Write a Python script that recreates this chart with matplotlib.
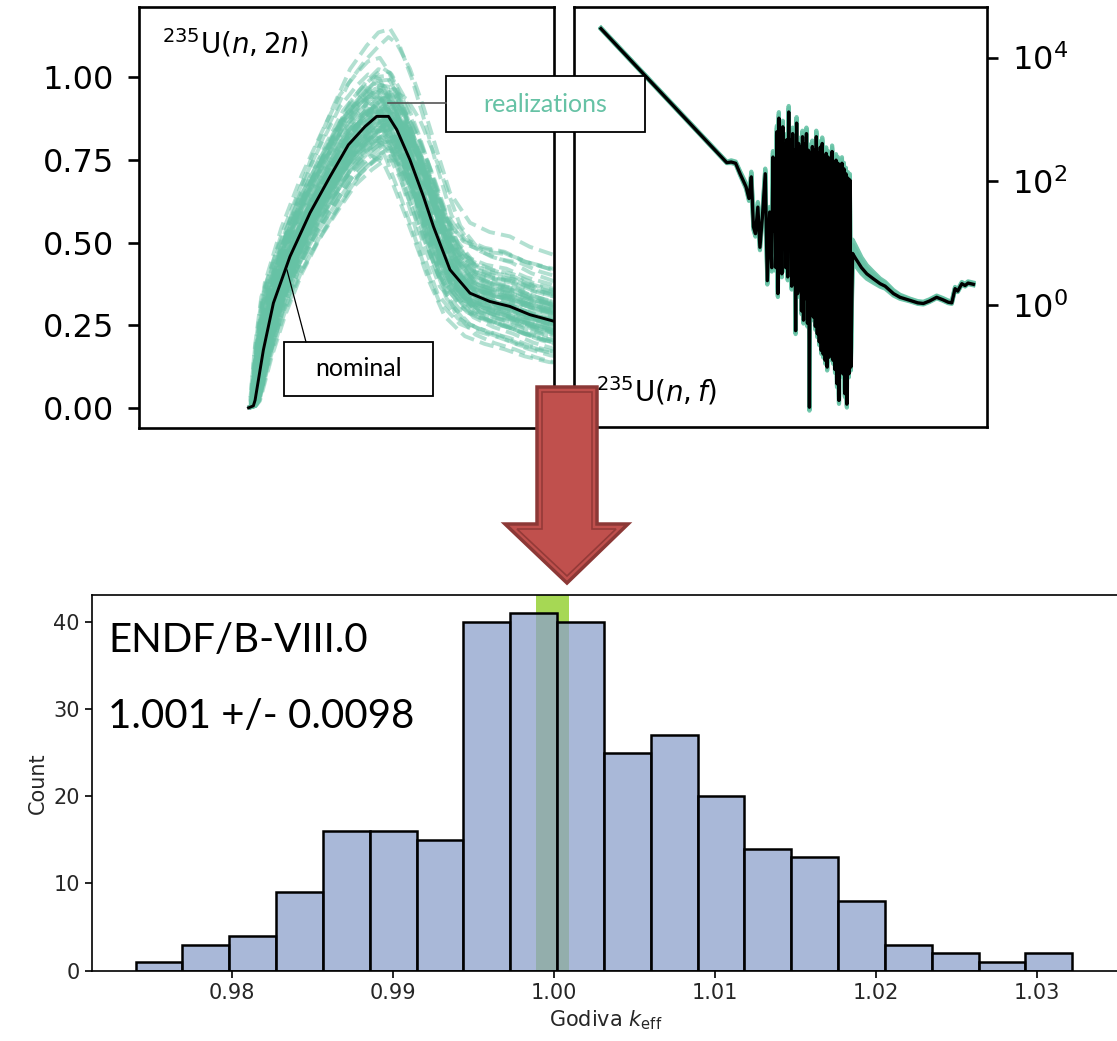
import numpy as np
import matplotlib.pyplot as plt
from matplotlib.patches import Polygon, Rectangle
from matplotlib.ticker import FixedLocator, NullLocator
from matplotlib.colors import to_rgba

W, H = 1117, 1041
TEAL = '#66c2a5'

# --- 235U(n,2n): nominal curve (energy in MeV) and the spread of the realizations
n2n_energy = [5.16, 5.30, 5.35, 5.59, 5.88, 6.36, 6.94, 7.52, 8.05, 8.53, 8.87, 9.21,
              9.45, 9.83, 10.22, 10.51, 10.99, 11.57, 12.14, 12.72, 13.30, 14.00, 14.50]
n2n_nominal = [0.000, 0.006, 0.023, 0.175, 0.317, 0.458, 0.590, 0.700, 0.796, 0.851, 0.882, 0.882,
               0.842, 0.751, 0.640, 0.549, 0.418, 0.347, 0.322, 0.307, 0.282, 0.262, 0.250]
n2n_rel_norm = [0.0, 0.04, 0.07, 0.09, 0.09, 0.09, 0.09, 0.09, 0.09, 0.09, 0.09, 0.09,
                0.09, 0.09, 0.09, 0.09, 0.09, 0.09, 0.09, 0.09, 0.09, 0.09, 0.09]
n2n_rel_tail = [0.0, 0.0, 0.0, 0.0, 0.0, 0.0, 0.0, 0.0, 0.0, 0.0, 0.0, 0.02,
                0.04, 0.07, 0.10, 0.13, 0.17, 0.20, 0.22, 0.24, 0.26, 0.28, 0.28]
n2n_shift_w = [0.0, 0.2, 0.4, 0.7, 1.0, 1.0, 1.0, 1.0, 1.0, 1.0, 1.0, 1.0,
               1.0, 1.0, 1.0, 1.0, 1.0, 1.0, 1.0, 1.0, 1.0, 1.0, 1.0]
# per-realization coefficients (normalisation, tail, energy shift in MeV)
real_norm = [0.3, -1.2, 0.8, 1.5, -0.4, 0.0, -1.6, 1.1, 0.5, -0.8,
             2.1, -0.1, 0.9, -1.4, 0.2, -0.6, 1.3, -1.0, 0.6, 1.8,
             -0.3, -1.5, 0.1, 0.7, -0.9, 1.0, -0.2, 0.4, -1.2, 1.6,
             -0.5, 0.95, -1.1, 0.25, 1.25, -0.7, -1.7, 0.65, 0.05, -1.3,
             1.45, -0.15, 0.85, -0.45, 3.2, -1.0, 0.35, -0.95, 2.6, -0.05,
             0.15, -0.35, 0.55, -0.65, 0.45, -0.25, 0.75, -0.85, 1.05, -0.15,
             0.25, -0.55, 0.6, -0.3, 0.95, -0.75, 0.05, 0.4, -0.45, 1.2,
             -1.05, 0.3, -0.1, 0.7, -0.6, 0.2, 1.35, -0.4, 0.5, -0.2]
real_tail = [-0.5, 0.9, -1.3, 0.2, 1.1, -0.7, 0.4, -0.1, 1.6, -1.0,
             0.6, 0.0, -1.7, 0.8, -0.3, 1.3, -0.9, 0.3, 2.0, -0.6,
             0.7, -1.2, 1.0, -0.4, 0.15, -1.5, 0.5, 1.4, -0.2, -0.8,
             1.2, -1.1, 0.45, 0.9, -0.55, 2.4, 0.1, -1.4, 0.75, -0.25,
             1.7, -0.75, 0.35, -1.6, 0.6, 1.05, -0.35, 0.2, 1.9, -0.95,
             0.3, -0.4, 0.1, 0.6, -0.8, 0.45, -0.15, 0.9, -0.5, 0.25,
             -0.65, 0.05, 1.1, -0.3, 0.4, -1.0, 0.7, -0.2, 0.15, -0.45,
             0.85, -0.05, 0.55, -0.7, 0.35, -0.9, 0.2, 0.65, -0.35, 1.3]
real_shift = [0.1, -0.2, 0.25, -0.05, 0.15, -0.3, 0.05, -0.15, 0.3, 0.0,
              -0.25, 0.2, -0.1, 0.1, -0.35, 0.25, -0.05, 0.15, -0.2, 0.05,
              0.3, -0.15, -0.05, 0.2, -0.3, 0.1, 0.0, -0.1, 0.35, -0.25,
              0.15, -0.2, 0.05, 0.25, -0.1, -0.05, 0.2, -0.35, 0.1, 0.3,
              -0.15, 0.0, -0.3, 0.15, 0.05, -0.2, 0.25, -0.1, 0.0, 0.2,
              -0.1, 0.05, 0.2, -0.15, 0.0, 0.1, -0.25, 0.15, -0.05, 0.25,
              -0.2, 0.05, 0.1, -0.1, 0.2, -0.3, 0.15, 0.0, -0.15, 0.1,
              0.25, -0.05, -0.2, 0.05, 0.3, -0.1, 0.0, 0.15, -0.25, 0.1]

# --- 235U(n,f): log10(E/eV) and log10(sigma/b)
fis_loge_lo = [-5.0, -0.75, -0.6, -0.45, -0.3, -0.1, 0.0, 0.08, 0.15, 0.22, 0.3, 0.37, 0.45, 0.55, 0.62, 0.7, 0.77]
fis_logs_lo = [4.47, 2.3, 2.31, 2.29, 2.12, 1.91, 1.72, 2.07, 1.26, 1.15, 1.58, 0.93, 1.4, 2.12, 0.39, 1.5, 0.6]
fis_unc_lo = [0.01, 0.01, 0.02, 0.02, 0.03, 0.04, 0.05, 0.06, 0.06, 0.06, 0.06, 0.06, 0.06, 0.06, 0.08, 0.06, 0.08]
# resolved resonances: alternating peaks and dips between two energies
res_loge_range = (0.81, 3.44)
res_peak = [2.39, 2.2, 2.8, 3.02, 2.56, 2.88, 2.6, 2.67, 3.12, 2.67,
            2.77, 2.5, 2.94, 2.61, 2.56, 2.72, 2.6, 2.77, 2.5, 2.45,
            2.56, 2.5, 2.72, 2.45, 2.55, 2.61, 2.4, 2.45, 2.39, 2.3,
            2.48, 2.3, 2.34, 2.29, 2.25, 2.29, 2.2, 2.12, 2.05, 2.02]
res_dip = [1.2, 0.6, 0.18, 0.72, 0.5, 0.9, 0.6, 0.45, 0.9, 0.3,
           0.5, -0.42, 0.18, 0.23, -0.1, -0.25, 0.1, -0.3, -1.66, -0.15,
           -0.2, -0.35, -0.47, -0.6, -0.74, -0.8, -0.9, -1.01, -0.85, -0.74,
           -0.9, -1.05, -1.28, -1.55, -1.01, -1.12, -1.44, -1.61, -1.12, -1.01]
res_unc = 0.07
fis_loge_hi = [3.5, 3.6, 3.8, 3.98, 4.2, 4.43, 4.6, 4.88, 5.1, 5.44, 5.7, 5.89,
               6.1, 6.34, 6.55, 6.73, 6.85, 6.96, 7.05, 7.19, 7.3, 7.4, 7.58]
fis_logs_hi = [0.83, 0.75, 0.6, 0.5, 0.42, 0.34, 0.3, 0.18, 0.12, 0.07, 0.03, 0.02,
               0.06, 0.12, 0.08, 0.04, 0.03, 0.26, 0.22, 0.34, 0.31, 0.35, 0.33]
fis_unc_hi = [0.16, 0.15, 0.12, 0.1, 0.08, 0.06, 0.05, 0.04, 0.03, 0.02, 0.02, 0.02,
              0.02, 0.02, 0.02, 0.02, 0.02, 0.02, 0.02, 0.02, 0.02, 0.02, 0.02]
fis_real = [-0.8, -0.4, 0.4, 0.9, 1.4]

# --- Godiva k_eff histogram
bin_lo, bin_hi = 0.9740, 1.0322
counts = [1, 3, 4, 9, 16, 16, 15, 40, 41, 40, 25, 27, 20, 14, 13, 8, 3, 2, 1, 2]
exp_keff, exp_unc = 0.99989, 0.00104
xticks_k = [0.98, 0.99, 1.00, 1.01, 1.02, 1.03]

plt.rcParams['font.family'] = 'DejaVu Sans'
fig = plt.figure(figsize=(W / 100, H / 100), dpi=100)


def px_axes(left, top, right, bottom):
    return fig.add_axes([left / W, 1 - bottom / H, (right - left) / W, (bottom - top) / H])


# left panel
ax1 = px_axes(139.3, 7, 554, 428)
e = np.array(n2n_energy)
nom = np.array(n2n_nominal)
for i, (z, w, s) in enumerate(zip(real_norm, real_tail, real_shift)):
    # stagger the dash phase so the band fills in like many overlapping draws
    dash = ((i * 1.3) % 5.3, (3.7, 1.6))
    ax1.plot(e + s * np.array(n2n_shift_w),
             nom * (1 + z * np.array(n2n_rel_norm) + w * np.array(n2n_rel_tail)),
             linestyle=dash, color=TEAL, lw=2.8, alpha=0.5)
ax1.plot(e, nom, color='black', lw=2.1)
ax1.set_xlim(2, 14)
ax1.set_ylim(-0.061, 1.213)
ax1.set_xticks([])
ax1.set_yticks([0, 0.25, 0.5, 0.75, 1.0])
ax1.set_yticklabels(['%.2f' % v for v in [0, 0.25, 0.5, 0.75, 1.0]])
ax1.tick_params(axis='y', labelsize=23, length=8, width=1.9, pad=10)
for sp in ax1.spines.values():
    sp.set_linewidth(1.9)
ax1.text(0.055, 0.89, r'$^{235}$U$(n,2n)$', transform=ax1.transAxes, fontsize=20, va='baseline')

# right panel
ax2 = px_axes(574, 7, 987.3, 427)
res_e = np.linspace(res_loge_range[0], res_loge_range[1], 2 * len(res_peak))
res_s = np.ravel(np.column_stack([res_peak, res_dip]))
loge = np.concatenate([fis_loge_lo, res_e, fis_loge_hi])
logs = np.concatenate([fis_logs_lo, res_s, fis_logs_hi])
unc = np.concatenate([fis_unc_lo, np.full(len(res_e), res_unc), fis_unc_hi])
for c in fis_real:
    ax2.plot(10 ** loge, 10 ** (logs + c * unc), color=TEAL, lw=3, alpha=0.9)
ax2.plot(10 ** loge, 10 ** logs, color='black', lw=2.4)
ax2.set_xscale('log')
ax2.set_yscale('log')
ax2.set_xlim(10 ** -5.91, 10 ** 8.05)
ax2.set_ylim(10 ** -1.98, 10 ** 4.82)
ax2.xaxis.set_major_locator(NullLocator())
ax2.xaxis.set_minor_locator(NullLocator())
ax2.yaxis.tick_right()
ax2.yaxis.set_major_locator(FixedLocator([1, 1e2, 1e4]))
ax2.yaxis.set_minor_locator(NullLocator())
ax2.tick_params(axis='y', labelsize=23, length=8, width=1.9, pad=10)
for sp in ax2.spines.values():
    sp.set_linewidth(1.9)
ax2.text(0.053, 0.06, r'$^{235}$U$(n,f)$', transform=ax2.transAxes, fontsize=20, va='baseline')

# bottom histogram
ax3 = px_axes(91.7, 595, 1119.4, 970.7)
edges = np.linspace(bin_lo, bin_hi, len(counts) + 1)
ax3.axvspan(exp_keff - exp_unc, exp_keff + exp_unc, color='#a6d854', lw=0, zorder=0.5)
ax3.bar(edges[:-1], counts, width=np.diff(edges), align='edge',
        facecolor=to_rgba('#8da0cb', 0.75), edgecolor='black', lw=1.8, zorder=2)
ax3.set_xlim(0.97127, 1.03513)
ax3.set_ylim(0, 43.05)
ax3.set_xticks(xticks_k)
ax3.set_xticklabels(['%.2f' % v for v in xticks_k])
ax3.set_yticks([0, 10, 20, 30, 40])
ax3.tick_params(labelsize=15, length=5, width=1.2, labelcolor='#262626')
for sp in ax3.spines.values():
    sp.set_linewidth(1.2)
ax3.set_xlabel(r'Godiva $k_{\rm eff}$', fontsize=15, color='#262626')
ax3.set_ylabel('Count', fontsize=15, color='#262626')

# overlay in pixel coordinates: arrow, call-out boxes, big labels
ov = fig.add_axes([0, 0, 1, 1])
ov.set_xlim(0, W)
ov.set_ylim(H, 0)
ov.axis('off')

arrow_out = [(537, 387), (597, 387), (597, 524), (628, 524), (567, 583), (505, 524), (537, 524)]
arrow_in = [(542, 392), (592, 392), (592, 529), (616, 529), (567, 576), (517, 529), (542, 529)]
ov.add_patch(Polygon(arrow_out, closed=True, facecolor='#c0504d', edgecolor='#8c3836', lw=2.5))
ov.add_patch(Polygon(arrow_in, closed=True, facecolor='none', edgecolor='#943a38', lw=1.2))

ov.plot([388, 446], [103, 103], color='#555555', lw=1.2)
ov.add_patch(Rectangle((446, 76), 199, 56, facecolor='white', edgecolor='black', lw=1.3))
ov.text(545.5, 104, 'realizations', color=TEAL, fontsize=18, family='Lato', ha='center', va='center')

ov.plot([306, 287], [342, 270], color='black', lw=0.9)
ov.add_patch(Rectangle((284, 342), 149, 54, facecolor='white', edgecolor='black', lw=1.3))
ov.text(358.5, 368, 'nominal', color='black', fontsize=18, family='Lato', ha='center', va='center')

ov.text(108, 651.7, 'ENDF/B-VIII.0', fontsize=29, family='Lato', va='baseline')
ov.text(108, 728, '1.001 +/- 0.0098', fontsize=29, family='Lato', va='baseline')

fig.savefig('out.png', dpi=100)
